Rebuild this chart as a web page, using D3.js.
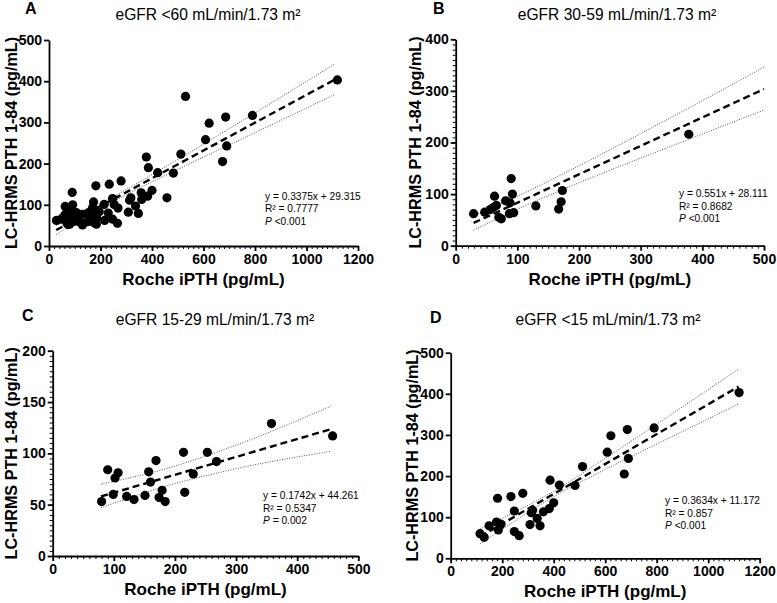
<!DOCTYPE html>
<html><head><meta charset="utf-8">
<script src="https://cdn.jsdelivr.net/npm/d3@7"></script>
<style>
body{margin:0;background:#fff}
svg{display:block}
text{font-family:"Liberation Sans",Arial,Helvetica,sans-serif;fill:#000}
</style></head>
<body><svg id="chart" width="777" height="603"></svg>
<script>
// ---------- DATA ----------
// Panel B: eGFR 30-59
const bX = [29, 47, 56, 61, 66, 63, 70, 74, 81, 88, 87, 94, 90, 92, 130, 173, 171, 167, 378];
const bY = [62, 65, 70, 74, 78, 96, 55, 52, 87, 83, 62, 64, 130, 100, 77, 107, 85, 71, 216];
// Panel C: eGFR 15-29
const cX = [80, 90, 102, 107, 99, 121, 133, 151, 157, 160, 169, 179, 174, 184, 214, 216, 230, 253, 268, 358, 458];
const cY = [53, 84, 76, 81, 60, 58, 55, 59, 82, 72, 93, 64, 57, 53, 101, 62, 80, 101, 92, 129, 117];
// Panel D: eGFR <15
const dX = [1120, 790, 686, 622, 608, 690, 674, 512, 483, 422, 386, 182, 234, 280, 247, 318, 313, 360, 383, 400, 336, 308, 347, 149, 178, 195, 185, 247, 266, 114, 130];
const dY = [403, 317, 313, 298, 258, 243, 205, 223, 177, 178, 190, 146, 150, 158, 115, 117, 111, 113, 121, 135, 97, 82, 79, 79, 88, 83, 69, 65, 55, 60, 51];
// Panel A extra point (all patients = B + C + D + this)
const extraAX = [530];
const extraAY = [363];

// regression equations (as printed)
const slopes = [0.3375, 0.551, 0.1742, 0.3634];
const intercepts = [29.315, 28.111, 44.261, 11.172];
const fitXRange = [[28, 1118], [29, 500], [79, 458], [114, 1118]];

// 95% confidence bands
const aBandX = [28, 150, 250, 500, 800, 1110];
const aBandLo = [28, 73, 108, 186, 275, 368];
const aBandHi = [50, 87, 120, 210, 323, 442];
const bBandX = [29, 95, 200, 350, 500];
const bBandLo = [30, 68, 122, 193, 263];
const bBandHi = [58, 93, 155, 249, 346];
const cBandX = [79, 185, 300, 455];
const cBandLo = [47, 68, 85, 102];
const cBandHi = [70, 85, 108, 146];
const dBandX = [114, 250, 400, 600, 850, 1117];
const dBandLo = [35, 91, 150, 216, 293, 375];
const dBandHi = [71, 113, 163, 243, 347, 460];

const titles = ["eGFR <60 mL/min/1.73 m²", "eGFR 30-59 mL/min/1.73 m²", "eGFR 15-29 mL/min/1.73 m²", "eGFR <15 mL/min/1.73 m²"];
const letters = ["A", "B", "C", "D"];
const eqTexts = ["y = 0.3375x + 29.315", "y = 0.551x + 28.111", "y = 0.1742x + 44.261", "y = 0.3634x + 11.172"];
const r2Texts = ["R² = 0.7777", "R² = 0.8682", "R² = 0.5347", "R² = 0.857"];
const pTexts = [" <0.001", " <0.001", " = 0.002", " <0.001"];
const xTicksA = [0, 200, 400, 600, 800, 1000, 1200];
const xTicksB = [0, 100, 200, 300, 400, 500];
const yTicksA = [0, 100, 200, 300, 400, 500];
const yTicksB = [0, 100, 200, 300, 400];
const yTicksC = [0, 50, 100, 150, 200];
const xLabel = "Roche iPTH (pg/mL)";
const yLabel = "LC-HRMS PTH 1-84 (pg/mL)";

// ---------- LAYOUT ----------
const aX = bX.concat(cX, dX, extraAX);
const aY = bY.concat(cY, dY, extraAY);

const panels = [
  {x0: 49, x1: 358, yT: 40, yB: 246, xd: [0, 1200], yd: [0, 500], xt: xTicksA, yt: yTicksA, xMinor: 20, yMinor: 0,
   xs: aX, ys: aY, band: [aBandX, aBandLo, aBandHi], lx: 25, ly: 14, tx: 208, ty: 20, ex: 265, ey: 199.5, yo: 32},
  {x0: 455.7, x1: 764, yT: 39.3, yB: 245.7, xd: [0, 500], yd: [0, 400], xt: xTicksB, yt: yTicksB, xMinor: 10, yMinor: 10,
   xs: bX, ys: bY, band: [bBandX, bBandLo, bBandHi], lx: 433, ly: 14, tx: 617, ty: 20, ex: 679, ey: 197, yo: 35},
  {x0: 52.7, x1: 358.3, yT: 350.7, yB: 556, xd: [0, 500], yd: [0, 200], xt: xTicksB, yt: yTicksC, xMinor: 10, yMinor: 5,
   xs: cX, ys: cY, band: [cBandX, cBandLo, cBandHi], lx: 22, ly: 321, tx: 215, ty: 325, ex: 263, ey: 499, yo: 36},
  {x0: 450.7, x1: 759.7, yT: 352.7, yB: 558.3, xd: [0, 1200], yd: [0, 500], xt: xTicksA, yt: yTicksA, xMinor: 20, yMinor: 0,
   xs: dX, ys: dY, band: [dBandX, dBandLo, dBandHi], lx: 430, ly: 323, tx: 608, ty: 325, ex: 665, ey: 504, yo: 33}
];

const svg = d3.select("#chart");

panels.forEach((p, i) => {
  const g = svg.append("g");
  const x = d3.scaleLinear().domain(p.xd).range([p.x0, p.x1]);
  const y = d3.scaleLinear().domain(p.yd).range([p.yB, p.yT]);

  // minor ticks
  if (p.xMinor) {
    const mt = d3.range(p.xd[0], p.xd[1] + 0.001, p.xMinor);
    g.append("g").attr("transform", `translate(0,${p.yB})`)
      .call(d3.axisBottom(x).tickValues(mt).tickSize(3).tickSizeOuter(0).tickFormat(""))
      .call(a => a.select(".domain").remove())
      .call(a => a.selectAll("line").attr("stroke", "#000").attr("stroke-width", 1));
  }
  if (p.yMinor) {
    const mt = d3.range(p.yd[0], p.yd[1] + 0.001, p.yMinor);
    g.append("g").attr("transform", `translate(${p.x0},0)`)
      .call(d3.axisLeft(y).tickValues(mt).tickSize(3).tickSizeOuter(0).tickFormat(""))
      .call(a => a.select(".domain").remove())
      .call(a => a.selectAll("line").attr("stroke", "#000").attr("stroke-width", 1));
  }

  // major axes
  const xa = g.append("g").attr("transform", `translate(0,${p.yB})`)
    .call(d3.axisBottom(x).tickValues(p.xt).tickSize(5).tickSizeOuter(0).tickPadding(3).tickFormat(d3.format("d")));
  const ya = g.append("g").attr("transform", `translate(${p.x0},0)`)
    .call(d3.axisLeft(y).tickValues(p.yt).tickSize(5).tickSizeOuter(0).tickPadding(2).tickFormat(d3.format("d")));
  [xa, ya].forEach(a => {
    a.attr("font-family", null).attr("font-size", null);
    a.select(".domain").attr("stroke", "#000").attr("stroke-width", 1.8);
    a.selectAll(".tick line").attr("stroke", "#000").attr("stroke-width", 1.8);
    a.selectAll(".tick text").attr("font-size", 14).attr("font-weight", "bold").attr("fill", "#000");
  });

  // confidence band (dotted)
  const [bx, blo, bhi] = p.band;
  const ln = d3.line().curve(d3.curveMonotoneX);
  [blo, bhi].forEach(arr => {
    g.append("path")
      .attr("d", ln(bx.map((v, k) => [x(v), y(arr[k])])))
      .attr("fill", "none").attr("stroke", "#555").attr("stroke-width", 1)
      .attr("stroke-dasharray", "1,1.5");
  });

  // points
  g.append("g").selectAll("circle").data(p.xs.map((v, k) => [v, p.ys[k]])).join("circle")
    .attr("cx", d => x(d[0])).attr("cy", d => y(d[1])).attr("r", 4.6).attr("fill", "#000");

  // regression line (dashed)
  const fr = fitXRange[i];
  g.append("line")
    .attr("x1", x(fr[0])).attr("y1", y(slopes[i] * fr[0] + intercepts[i]))
    .attr("x2", x(fr[1])).attr("y2", y(slopes[i] * fr[1] + intercepts[i]))
    .attr("stroke", "#000").attr("stroke-width", 2.4).attr("stroke-dasharray", "7,4");

  // letter
  g.append("text").attr("x", p.lx).attr("y", p.ly).attr("font-size", 16).attr("font-weight", "bold").text(letters[i]);

  // title
  g.append("text").attr("x", p.tx).attr("y", p.ty).attr("text-anchor", "middle").attr("font-size", 15.6).text(titles[i]);

  // axis titles
  g.append("text").attr("x", (p.x0 + p.x1) / 2).attr("y", p.yB + 39).attr("text-anchor", "middle")
    .attr("font-size", 17).attr("font-weight", "bold").text(xLabel);
  g.append("text").attr("transform", `translate(${p.x0 - p.yo},${(p.yT + p.yB) / 2}) rotate(-90)`)
    .attr("text-anchor", "middle").attr("font-size", 16.2).attr("font-weight", "bold").text(yLabel);

  // annotation
  const lh = 12.5;
  const an = g.append("g").attr("font-size", 10.2);
  an.append("text").attr("x", p.ex).attr("y", p.ey).text(eqTexts[i]);
  an.append("text").attr("x", p.ex).attr("y", p.ey + lh).text(r2Texts[i]);
  const pt = an.append("text").attr("x", p.ex).attr("y", p.ey + 2 * lh);
  pt.append("tspan").attr("font-style", "italic").text("P");
  pt.append("tspan").text(pTexts[i]);
});
</script>
</body></html>
